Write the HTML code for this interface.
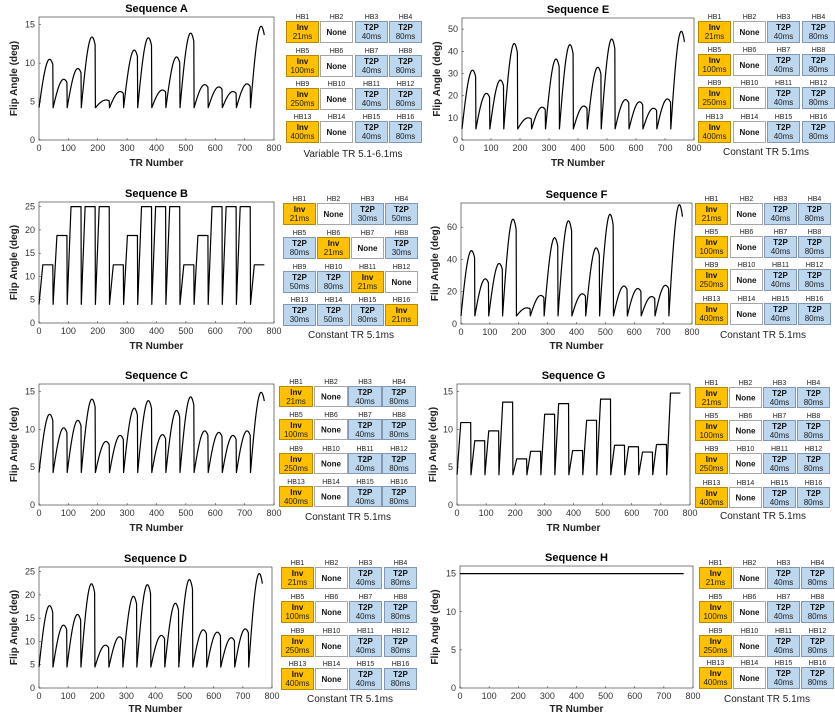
<!DOCTYPE html>
<html><head><meta charset="utf-8"><style>
html,body{margin:0;padding:0;background:#fff;}
svg{display:block;font-family:"Liberation Sans",sans-serif;}
</style></head><body>
<svg id="fig" width="835" height="715" viewBox="0 0 835 715" xmlns="http://www.w3.org/2000/svg"></svg>
<script>
// ---- data ----
const seqNames = ["A","B","C","D","E","F","G","H"];
const peaksA = [10.5,7.9,9.3,13.4,5.2,6.3,11.7,13.3,6.5,10.8,13.9,7.2,6.9,6.3,7.3,14.8];
const levelsB = [12.5,18.8,25,25,25,12.5,18.8,25,25,25,12.5,18.8,25,25,25,12.5];
const peaksC = [12.0,10.2,11.2,14.0,8.4,9.2,12.8,13.8,9.3,12.5,14.3,9.8,9.6,9.2,9.8,14.9];
const peaksD = [17.7,13.5,15.8,22.4,9.2,11.0,19.7,22.2,11.3,18.2,23.3,12.5,12.0,10.8,12.7,24.6];
const peaksE = [31.5,21,27,43.5,10,14.8,36.5,43,15.3,32.8,45.5,18.2,17.2,14.3,18.5,49];
const peaksF = [45.5,28,37.5,65,10,17.7,53.5,64,18.7,47.2,68,23.5,22,17,24,74];
const levelsG = [10.9,8.5,9.8,13.6,6.1,7.1,12.0,13.4,7.2,11.2,14.0,7.9,7.7,7.0,8.0,14.8];
const levelH = [15];
const baseVals = [4.2,4,4.3,4.5,5,5,4,15];
const segLen = 48;
const xTicks = [0,100,200,300,400,500,600,700,800];
const yTicksA = [0,5,10,15];
const yTicksB = [0,5,10,15,20,25];
const yTicksE = [0,10,20,30,40,50];
const yTicksF = [0,20,40,60];
const tableDefault = [["Inv","21ms"],["None",""],["T2P","40ms"],["T2P","80ms"],
 ["Inv","100ms"],["None",""],["T2P","40ms"],["T2P","80ms"],
 ["Inv","250ms"],["None",""],["T2P","40ms"],["T2P","80ms"],
 ["Inv","400ms"],["None",""],["T2P","40ms"],["T2P","80ms"]];
const tableB = [["Inv","21ms"],["None",""],["T2P","30ms"],["T2P","50ms"],
 ["T2P","80ms"],["Inv","21ms"],["None",""],["T2P","30ms"],
 ["T2P","50ms"],["T2P","80ms"],["Inv","21ms"],["None",""],
 ["T2P","30ms"],["T2P","50ms"],["T2P","80ms"],["Inv","21ms"]];
const captions = ["Variable TR 5.1-6.1ms","Constant TR 5.1ms","Constant TR 5.1ms","Constant TR 5.1ms","Constant TR 5.1ms","Constant TR 5.1ms","Constant TR 5.1ms","Constant TR 5.1ms"];

// ---- layout (not data) ----
const panels = [
 {kind:"arc",vals:peaksA,yMax:16,yTicks:yTicksA,L:39,R:274,T:17,B:140,yl:17,tbl:tableDefault,cols:[286,320,355,389],rows:[21,55,88,121],bw:33,bh:22,cap:[353,157],ty:163},
 {kind:"step",vals:levelsB,yMax:26,yTicks:yTicksB,L:39,R:274,T:202,B:323,yl:17,tbl:tableB,cols:[283,317,351,385],rows:[203,237,271,304],bw:33,bh:22,cap:[351,338],ty:346},
 {kind:"arc",vals:peaksC,yMax:16,yTicks:yTicksA,L:39,R:274,T:384,B:505,yl:17,tbl:tableDefault,cols:[279,314,348,382],rows:[386,419,453,486],bw:34,bh:21,cap:[348,520],ty:528},
 {kind:"arc",vals:peaksD,yMax:26,yTicks:yTicksB,L:39,R:272,T:567,B:688,yl:17,tbl:tableDefault,cols:[281,315,349,384],rows:[567,601,635,668],bw:33,bh:22,cap:[350,702],ty:709},
 {kind:"arc",vals:peaksE,yMax:55,yTicks:yTicksE,L:462,R:694,T:18,B:140,yl:440,tbl:tableDefault,cols:[698,733,767,802],rows:[21,54,87,121],bw:33,bh:22,cap:[766,155],ty:163},
 {kind:"arc",vals:peaksF,yMax:75,yTicks:yTicksF,L:461,R:692,T:203,B:324,yl:438,tbl:tableDefault,cols:[695,730,764,798],rows:[203,236,269,303],bw:33,bh:22,cap:[763,338],ty:346},
 {kind:"step",vals:levelsG,yMax:16,yTicks:yTicksA,L:457,R:690,T:384,B:505,yl:436,tbl:tableDefault,cols:[695,729,763,797],rows:[387,420,453,487],bw:33,bh:21,cap:[763,519],ty:528},
 {kind:"flat",vals:levelH,yMax:16,yTicks:yTicksA,L:460,R:693,T:566,B:688,yl:438,tbl:tableDefault,cols:[699,733,767,801],rows:[567,601,635,667],bw:33,bh:22,cap:[767,702],ty:709}
];
const NS="http://www.w3.org/2000/svg";
const svg=document.getElementById("fig");
function mk(tag,attrs,parent){const e=document.createElementNS(NS,tag);for(const k in attrs)e.setAttribute(k,attrs[k]);(parent||svg).appendChild(e);return e;}

panels.forEach((p,pi)=>{
 const g=mk("g",{});
 
 
 const xS=v=>p.L+(v/800)*(p.R-p.L);
 const yS=v=>p.B-(v/p.yMax)*(p.B-p.T);
 const box=mk("rect",{x:p.L,y:p.T,width:p.R-p.L,height:p.B-p.T,fill:"#fff",stroke:"#262626","stroke-width":0.6},g);
 
 
 const t=mk("text",{x:(p.L+p.R)/2,y:p.T-5,"text-anchor":"middle","font-size":"11","font-weight":"bold",fill:"#000"},g);
 t.textContent="Sequence "+seqNames[pi];
 
 
 xTicks.forEach(v=>{
  const tx=mk("text",{x:xS(v),y:p.B+11,"text-anchor":"middle","font-size":"9",fill:"#333"},g);
  tx.textContent=v;
  
  
  mk("line",{x1:xS(v),x2:xS(v),y1:p.B,y2:p.B-2,stroke:"#262626","stroke-width":0.5},g);
 });
 p.yTicks.forEach(v=>{
  const ty=mk("text",{x:p.L-4,y:yS(v)+3,"text-anchor":"end","font-size":"9",fill:"#333"},g);
  ty.textContent=v;
  
  
  mk("line",{x1:p.L,x2:p.L+2,y1:yS(v),y2:yS(v),stroke:"#262626","stroke-width":0.5},g);
 });
 const xl=mk("text",{x:(p.L+p.R)/2,y:p.ty+3,"text-anchor":"middle","font-size":"10","font-weight":"bold",fill:"#222"},g);
 xl.textContent="TR Number";
 
 
 const cy=(p.T+p.B)/2;
 const yl=mk("text",{x:p.yl,y:cy,"text-anchor":"middle","font-size":"10","font-weight":"bold",fill:"#222",transform:"rotate(-90 "+p.yl+" "+cy+")"},g);
 yl.textContent="Flip Angle (deg)";
 
 
 // series
 const base=baseVals[pi];
 let pts=[];
 if(p.kind==="flat"){
  pts.push([0,p.vals[0]],[768,p.vals[0]]);
 } else {
  p.vals.forEach((pk,s)=>{
   const x0=s*segLen;
   if(p.kind==="arc"){
    for(let k=0;k<=24;k++){const tt=k/24;const y=base+(pk-base)*Math.sin(Math.PI/2*tt/0.77);pts.push([x0+tt*(segLen-1),y]);}
   } else {
    pts.push([x0,base],[x0+13,pk],[x0+segLen-1,pk]);
   }
   if(s<p.vals.length-1) pts.push([x0+segLen,base]);
  });
 }
 const d=pts.map((q,i)=>(i?"L":"M")+xS(q[0]).toFixed(2)+" "+yS(q[1]).toFixed(2)).join(" ");
 const path=mk("path",{d:d,fill:"none",stroke:"#000","stroke-width":1.2,"stroke-linejoin":"round"},g);
 
 
 // table
 const tg=mk("g",{},g);
 
 
 p.tbl.forEach((c,i)=>{
  const r=Math.floor(i/4),col=i%4;
  const x=p.cols[col],y=p.rows[r];
  const w=Math.min(p.bw,835-x);
  const lab=mk("text",{x:x+p.bw/2,y:y-2,"text-anchor":"middle","font-size":"7",fill:"#222"},tg);
  lab.textContent="HB"+(i+1);
  
  
  let fill="#fff",st="#a6a6a6";
  if(c[0]==="Inv"){fill="#ffc000";st="#b58a00";}
  else if(c[0]==="T2P"){fill="#bdd7ee";st="#8497b0";}
  const rc=mk("rect",{x:x+0.5,y:y+0.5,width:w-1,height:p.bh-1,fill:fill,stroke:st,"stroke-width":1},tg);
  
  
  if(c[1]){
   const a=mk("text",{x:x+p.bw/2,y:y+9,"text-anchor":"middle","font-size":"8","font-weight":"bold",fill:"#111"},tg);
   a.textContent=c[0];
   
   
   const b=mk("text",{x:x+p.bw/2,y:y+18,"text-anchor":"middle","font-size":"8",fill:"#222"},tg);
   b.textContent=c[1];
   
   
  } else {
   const a=mk("text",{x:x+p.bw/2,y:y+p.bh/2+3,"text-anchor":"middle","font-size":"8","font-weight":"bold",fill:"#111"},tg);
   a.textContent=c[0];
   
   
  }
 });
 const cap=mk("text",{x:p.cap[0],y:p.cap[1],"text-anchor":"middle","font-size":"10",fill:"#222"},g);
 cap.textContent=captions[pi];
 
 
});
</script>
</body></html>
